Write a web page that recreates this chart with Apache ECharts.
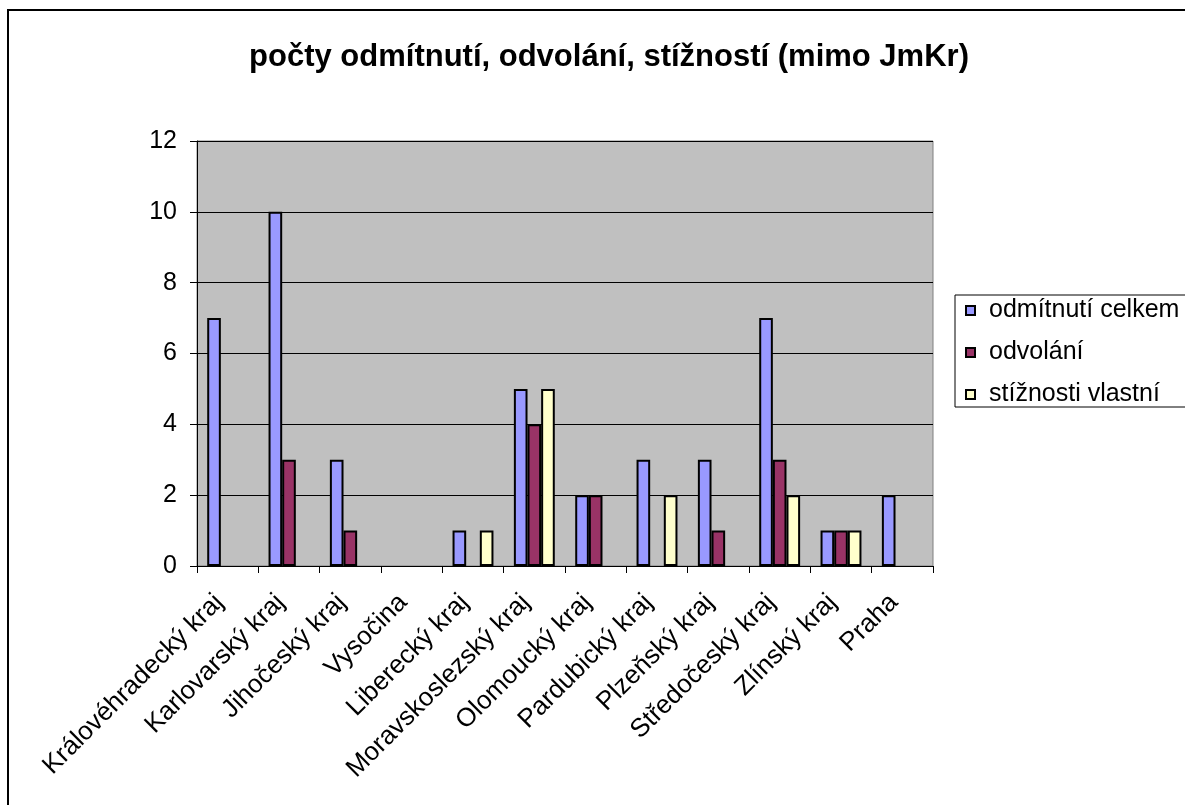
<!DOCTYPE html>
<html>
<head>
<meta charset="utf-8">
<script src="https://cdn.jsdelivr.net/npm/echarts@6/dist/echarts.min.js"></script>
<style>
  html, body { margin: 0; padding: 0; background: #fff; }
  #chart { width: 1185px; height: 805px; }
</style>
</head>
<body>
<div id="chart"></div>
<script>
const regions = [
  "Královéhradecký kraj", "Karlovarský kraj", "Jihočeský kraj", "Vysočina",
  "Liberecký kraj", "Moravskoslezský kraj", "Olomoucký kraj", "Pardubický kraj",
  "Plzeňský kraj", "Středočeský kraj", "Zlínský kraj", "Praha"
];
const odmitnuti = [7, 10, 3, 0, 1, 5, 2, 3, 3, 7, 1, 2];
const odvolani = [0, 3, 1, 0, 0, 4, 2, 0, 1, 3, 1, 0];
const stiznosti = [0, 0, 0, 0, 1, 5, 0, 2, 0, 2, 1, 0];

const FONT = "'Liberation Sans', Arial, sans-serif";

const chart = echarts.init(document.getElementById("chart"));

// zero values are not drawn at all (no flat outline on the axis)
function barSeries(name, data, color) {
  return {
    name: name,
    type: "bar",
    data: data.map(v => (v === 0 ? "-" : v)),
    barGap: "0%",
    barCategoryGap: "33.3%",
    itemStyle: { color: color, borderColor: "#000", borderWidth: 2 },
    animation: false
  };
}

chart.setOption({
  animation: false,
  title: {
    text: "počty odmítnutí, odvolání, stížností (mimo JmKr)",
    left: 604,
    textAlign: "center",
    top: 37,
    textStyle: { fontFamily: FONT, fontSize: 31, fontWeight: "bold", color: "#000" }
  },
  graphic: [{
    type: "rect",
    shape: { x: 8, y: 10, width: 1300, height: 900 },
    style: { fill: "none", stroke: "#000", lineWidth: 2 },
    silent: true,
    z: -10
  }],
  legend: {
    orient: "vertical",
    left: 955,
    top: 295,
    padding: [3, 60, 0, 10],
    itemGap: 17,
    itemWidth: 9,
    itemHeight: 9,
    icon: "rect",
    backgroundColor: "#fff",
    borderColor: "#000",
    borderWidth: 1,
    textStyle: { fontFamily: FONT, fontSize: 25, color: "#000", padding: [0, 0, 0, 9] }
  },
  grid: {
    left: 197,
    top: 141,
    right: 252,
    bottom: 239,
    show: true,
    backgroundColor: "#C0C0C0",
    borderColor: "#808080",
    borderWidth: 1
  },
  xAxis: {
    type: "category",
    data: regions,
    boundaryGap: true,
    axisLine: { lineStyle: { color: "#000", width: 1 } },
    axisTick: { show: true, alignWithLabel: false, length: 7, lineStyle: { color: "#000" } },
    axisLabel: {
      interval: 0,
      rotate: 45,
      margin: 24,
      padding: [0, 12, 0, 0],
      fontFamily: FONT,
      fontSize: 26,
      color: "#000"
    }
  },
  yAxis: {
    type: "value",
    min: 0,
    max: 12,
    interval: 2,
    axisLine: { show: true, lineStyle: { color: "#000", width: 1 } },
    axisTick: { show: true, length: 7, lineStyle: { color: "#000" } },
    splitLine: { show: true, lineStyle: { color: "#000", width: 1 } },
    axisLabel: { margin: 20, fontFamily: FONT, fontSize: 25, color: "#000" }
  },
  series: [
    barSeries("odmítnutí celkem", odmitnuti, "#9999FF"),
    barSeries("odvolání", odvolani, "#993366"),
    barSeries("stížnosti vlastní", stiznosti, "#FFFFCC")
  ]
});
</script>
</body>
</html>
